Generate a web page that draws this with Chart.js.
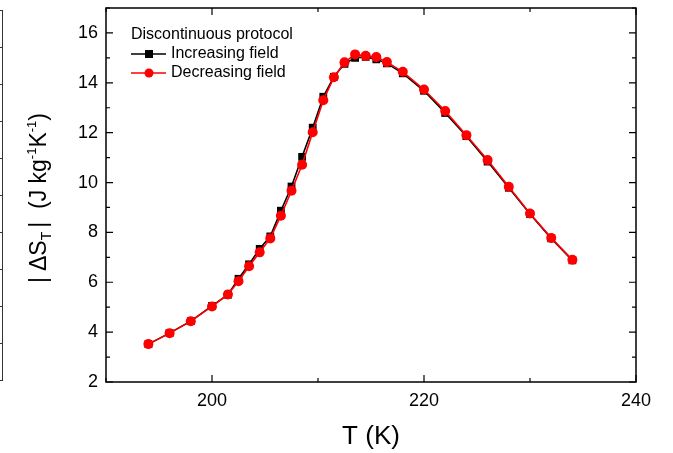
<!DOCTYPE html>
<html><head><meta charset="utf-8">
<script src="https://cdn.jsdelivr.net/npm/chart.js@4/dist/chart.umd.min.js"></script>
<style>html,body{margin:0;padding:0;background:#fff}#wrap{width:673px;height:453px}</style>
</head><body><div id="wrap"><canvas id="c" width="673" height="453"></canvas></div>
<script>
const temperatures = [194,196,198,200,201.5,202.5,203.5,204.5,205.5,206.5,207.5,208.5,209.5,210.5,211.5,212.5,213.5,214.5,215.5,216.5,218,220,222,224,226,228,230,232,234];
const increasingField = [3.52,3.96,4.44,5.05,5.5,6.14,6.72,7.34,7.84,8.87,9.84,11.03,12.2,13.44,14.24,14.76,15.0,15.04,14.94,14.78,14.38,13.68,12.79,11.86,10.84,9.79,8.74,7.76,6.88];
const decreasingField = [3.52,3.96,4.44,5.03,5.51,6.04,6.64,7.2,7.76,8.67,9.67,10.71,12.02,13.3,14.22,14.82,15.14,15.08,15.03,14.83,14.44,13.73,12.87,11.9,10.9,9.83,8.76,7.78,6.9];
const xMajorTicks = [200,220,240];
const xMinorTicks = [190,210,230];
const yMajorTicks = [2,4,6,8,10,12,14,16];
const yMinorTicks = [3,5,7,9,11,13,15,17];
const legendTitle = 'Discontinuous protocol';
const seriesNames = ['Increasing field','Decreasing field'];

const FONT = '"Liberation Sans", Arial, sans-serif';

const framePlugin = {
  id: 'frame',
  afterDraw(chart) {
    const ctx = chart.ctx, a = chart.chartArea;
    const xs = chart.scales.x, ys = chart.scales.y;
    ctx.save();
    ctx.strokeStyle = '#000';
    ctx.lineWidth = 1.5;
    ctx.strokeRect(a.left, a.top, a.right - a.left, a.bottom - a.top);
    ctx.lineWidth = 1.2;
    const tick = (vals, len, axis) => {
      vals.forEach(v => {
        ctx.beginPath();
        if (axis === 'x') {
          const p = xs.getPixelForValue(v);
          ctx.moveTo(p, a.bottom); ctx.lineTo(p, a.bottom - len);
          ctx.moveTo(p, a.top); ctx.lineTo(p, a.top + len);
        } else {
          const p = ys.getPixelForValue(v);
          ctx.moveTo(a.left, p); ctx.lineTo(a.left + len, p);
          ctx.moveTo(a.right, p); ctx.lineTo(a.right - len, p);
        }
        ctx.stroke();
      });
    };
    tick(xMajorTicks, 7, 'x');
    tick(xMinorTicks, 4, 'x');
    tick(yMajorTicks, 7, 'y');
    tick(yMinorTicks, 4, 'y');

    // legend
    ctx.fillStyle = '#000';
    ctx.font = '16px ' + FONT;
    ctx.textBaseline = 'middle';
    ctx.textAlign = 'left';
    ctx.fillText(legendTitle, 131, 35);
    const rows = [{y: 54, c: '#000', s: 'rect'}, {y: 73, c: '#ff0000', s: 'circle'}];
    rows.forEach((r, i) => {
      ctx.strokeStyle = r.c; ctx.lineWidth = 1.6;
      ctx.beginPath(); ctx.moveTo(131, r.y); ctx.lineTo(166, r.y); ctx.stroke();
      ctx.fillStyle = r.c;
      if (r.s === 'rect') ctx.fillRect(149 - 4, r.y - 4, 8, 8);
      else { ctx.beginPath(); ctx.arc(149, r.y, 4.5, 0, Math.PI * 2); ctx.fill(); }
      ctx.fillStyle = '#000';
      ctx.fillText(seriesNames[i], 171, r.y);
    });

    // x title
    ctx.font = '26px ' + FONT;
    ctx.textAlign = 'center';
    ctx.fillText('T (K)', (a.left + a.right) / 2, 437);

    // y title (rich text, rotated)
    const parts = [
      {t: '|', s: 23, dy: 0, gap: 6},
      {t: '\u0394S', s: 23, dy: 0, gap: 0},
      {t: 'T', s: 14, dy: 7, gap: 4},
      {t: '|  (J kg', s: 23, dy: 0, gap: 0},
      {t: '-1', s: 13, dy: -8, gap: 0},
      {t: 'K', s: 23, dy: 0, gap: 0},
      {t: '-1', s: 13, dy: -8, gap: 0},
      {t: ')', s: 23, dy: 0, gap: 0}
    ];
    let w = 0;
    parts.forEach(p => { ctx.font = p.s + 'px ' + FONT; p.w = ctx.measureText(p.t).width; w += p.w + p.gap; });
    ctx.translate(40, 198);
    ctx.rotate(-Math.PI / 2);
    ctx.textAlign = 'left';
    let x = -w / 2;
    parts.forEach(p => {
      ctx.font = p.s + 'px ' + FONT;
      ctx.fillText(p.t, x, p.dy);
      x += p.w + p.gap;
    });
    ctx.restore();

    // partial frame of neighbouring panel at far left
    ctx.save();
    ctx.strokeStyle = '#333'; ctx.lineWidth = 1;
    ctx.beginPath(); ctx.moveTo(2.5, 10); ctx.lineTo(2.5, 381);
    for (let yy = 10; yy <= 381; yy += 37) { ctx.moveTo(0, yy + 0.5); ctx.lineTo(2.5, yy + 0.5); }
    ctx.stroke();
    ctx.restore();
  }
};

const noPad = s => { s.paddingTop = 0; s.paddingBottom = 0; s.paddingLeft = 0; s.paddingRight = 0; };

new Chart(document.getElementById('c'), {
  type: 'line',
  data: {
    datasets: [
      {
        label: seriesNames[0],
        data: temperatures.map((t, i) => ({x: t, y: increasingField[i]})),
        borderColor: '#000', backgroundColor: '#000',
        borderWidth: 1.6, pointStyle: 'rect', pointRadius: 5.5,
        pointBorderWidth: 0, tension: 0, order: 2
      },
      {
        label: seriesNames[1],
        data: temperatures.map((t, i) => ({x: t, y: decreasingField[i]})),
        borderColor: '#ff0000', backgroundColor: '#ff0000',
        borderWidth: 1.6, pointStyle: 'circle', pointRadius: 5,
        pointBorderWidth: 0, tension: 0, order: 1
      }
    ]
  },
  options: {
    responsive: false, animation: false, devicePixelRatio: 1,
    layout: {padding: {left: 0, top: 8, right: 37, bottom: 0}},
    plugins: {legend: {display: false}, tooltip: {enabled: false}},
    scales: {
      x: {
        type: 'linear', min: 190, max: 240,
        afterBuildTicks: s => { s.ticks = xMajorTicks.map(v => ({value: v})); },
        afterFit: s => { s.height = 71; noPad(s); },
        grid: {display: false, drawTicks: false}, border: {display: false},
        ticks: {color: '#000', font: {family: FONT, size: 18}, padding: 8, maxRotation: 0}
      },
      y: {
        type: 'linear', min: 2, max: 17,
        afterBuildTicks: s => { s.ticks = yMajorTicks.map(v => ({value: v})); },
        afterFit: s => { s.width = 106; noPad(s); },
        grid: {display: false, drawTicks: false}, border: {display: false},
        ticks: {color: '#000', font: {family: FONT, size: 18}, padding: 8}
      }
    }
  },
  plugins: [framePlugin]
});
</script>
</body></html>
